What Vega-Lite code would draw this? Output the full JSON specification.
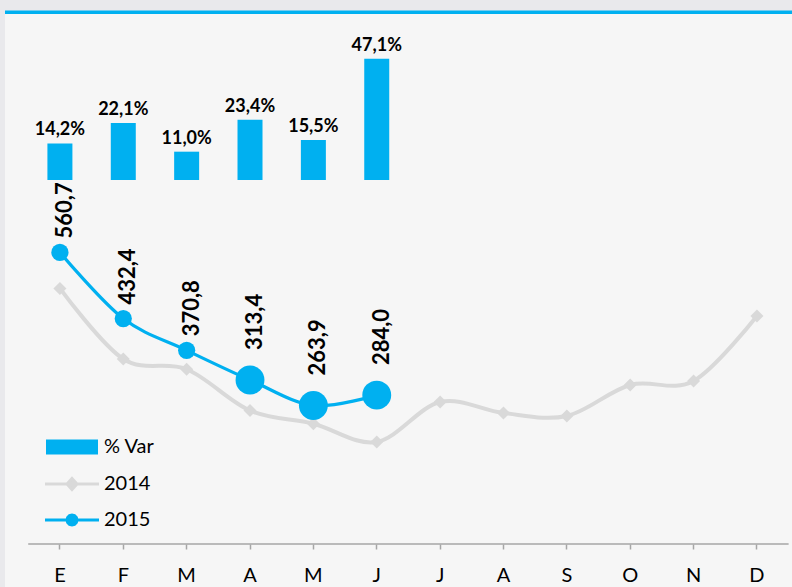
{
  "$schema": "https://vega.github.io/schema/vega-lite/v6.json",
  "width": 787,
  "height": 574,
  "autosize": {"type": "none"},
  "padding": {"left": 5, "top": 13, "right": 0, "bottom": 0},
  "background": "#E9E9EC",
  "config": {"view": {"fill": "#F6F6F6", "stroke": null}, "font": "Lato"},
  "datasets": {
    "d": [
      {"i": 1, "mes": "E", "serie": "% Var", "valor": 14.2, "etiqueta": "14,2%"},
      {"i": 2, "mes": "F", "serie": "% Var", "valor": 22.1, "etiqueta": "22,1%"},
      {"i": 3, "mes": "M", "serie": "% Var", "valor": 11.0, "etiqueta": "11,0%"},
      {"i": 4, "mes": "A", "serie": "% Var", "valor": 23.4, "etiqueta": "23,4%"},
      {"i": 5, "mes": "M", "serie": "% Var", "valor": 15.5, "etiqueta": "15,5%"},
      {"i": 6, "mes": "J", "serie": "% Var", "valor": 47.1, "etiqueta": "47,1%"},
      {"i": 1, "mes": "E", "serie": "2014", "valor": 490.9},
      {"i": 2, "mes": "F", "serie": "2014", "valor": 354.1},
      {"i": 3, "mes": "M", "serie": "2014", "valor": 334.1},
      {"i": 4, "mes": "A", "serie": "2014", "valor": 254.0},
      {"i": 5, "mes": "M", "serie": "2014", "valor": 228.5},
      {"i": 6, "mes": "J", "serie": "2014", "valor": 193.1},
      {"i": 7, "mes": "J", "serie": "2014", "valor": 270.6},
      {"i": 8, "mes": "A", "serie": "2014", "valor": 249.3},
      {"i": 9, "mes": "S", "serie": "2014", "valor": 243.5},
      {"i": 10, "mes": "O", "serie": "2014", "valor": 303.6},
      {"i": 11, "mes": "N", "serie": "2014", "valor": 311.4},
      {"i": 12, "mes": "D", "serie": "2014", "valor": 437.5},
      {"i": 1, "mes": "E", "serie": "2015", "valor": 560.7, "etiqueta": "560,7"},
      {"i": 2, "mes": "F", "serie": "2015", "valor": 432.4, "etiqueta": "432,4"},
      {"i": 3, "mes": "M", "serie": "2015", "valor": 370.8, "etiqueta": "370,8"},
      {"i": 4, "mes": "A", "serie": "2015", "valor": 313.4, "etiqueta": "313,4"},
      {"i": 5, "mes": "M", "serie": "2015", "valor": 263.9, "etiqueta": "263,9"},
      {"i": 6, "mes": "J", "serie": "2015", "valor": 284.0, "etiqueta": "284,0"}
    ]
  },
  "data": {"name": "d"},
  "resolve": {"scale": {"y": "independent"}},
  "layer": [
    {
      "transform": [{"filter": "datum.serie === '% Var'"}],
      "mark": {"type": "bar", "size": 25},
      "encoding": {
        "x": {
          "field": "i", "type": "ordinal",
          "scale": {"paddingInner": 0, "paddingOuter": 0.21, "align": 0.873},
          "axis": {
            "title": null,
            "labelExpr": "['E','F','M','A','M','J','J','A','S','O','N','D'][datum.value-1]",
            "labelAngle": 0, "labelFont": "Lato", "labelFontSize": 20, "labelColor": "#000000",
            "labelPadding": 16.5, "tickSize": 5, "tickColor": "#A6A6A6", "tickWidth": 1.5,
            "domain": false, "grid": false, "offset": -43
          }
        },
        "y": {"field": "valor", "type": "quantitative", "scale": {"domain": [-158.2, 64.9], "nice": false, "zero": false}, "axis": null},
        "color": {
          "field": "serie", "type": "nominal",
          "scale": {"domain": ["% Var", "2014", "2015"], "range": ["#00B0F0", "#D9D9D9", "#00B0F0"]},
          "legend": {
            "title": null, "orient": "none", "legendX": 41, "legendY": 424, "padding": 0,
            "labelFont": "Lato", "labelFontSize": 20, "labelColor": "#000000",
            "symbolSize": 100, "symbolStrokeWidth": 3, "symbolOffset": 16, "labelOffset": 22, "rowPadding": 13,
            "encode": {
              "symbols": {
                "update": {
                  "shape": {"signal": "datum.value === '% Var' ? 'M-4.9,-1.2H4.9V1.2H-4.9Z' : datum.value === '2014' ? 'M-5.4,0H5.4M0,-1.1L1,0L0,1.1L-1,0Z' : 'M-5.4,0H5.4M1,0L0.87,0.5L0.5,0.87L0,1L-0.5,0.87L-0.87,0.5L-1,0L-0.87,-0.5L-0.5,-0.87L0,-1L0.5,-0.87L0.87,-0.5Z'"},
                  "fill": {"signal": "datum.value === '2014' ? '#D9D9D9' : '#00B0F0'"},
                  "stroke": {"signal": "datum.value === '2014' ? '#D9D9D9' : '#00B0F0'"},
                  "size": {"value": 100},
                  "strokeWidth": {"value": 3},
                  "opacity": {"value": 1},
                  "fillOpacity": {"value": 1},
                  "strokeOpacity": {"value": 1}
                }
              }
            }
          }
        }
      }
    },
    {
      "transform": [{"filter": "datum.serie === '% Var'"}],
      "mark": {"type": "text", "font": "Lato", "fontWeight": "bold", "fontSize": 18, "baseline": "alphabetic", "dy": -8, "color": "#000000"},
      "encoding": {
        "x": {"field": "i", "type": "ordinal"},
        "y": {"field": "valor", "type": "quantitative", "scale": {"domain": [-158.2, 64.9], "nice": false, "zero": false}, "axis": null},
        "text": {"field": "etiqueta"}
      }
    },
    {
      "transform": [{"filter": "datum.serie === '2014'"}],
      "mark": {"type": "line", "interpolate": "cardinal", "strokeWidth": 4},
      "encoding": {
        "x": {"field": "i", "type": "ordinal"},
        "y": {"field": "valor", "type": "quantitative", "scale": {"domain": [-88.3, 1025.2], "nice": false, "zero": false}, "axis": null},
        "color": {"field": "serie", "type": "nominal"}
      }
    },
    {
      "transform": [{"filter": "datum.serie === '2014'"}],
      "mark": {"type": "point", "shape": "diamond", "filled": true, "opacity": 1, "size": 170},
      "encoding": {
        "x": {"field": "i", "type": "ordinal"},
        "y": {"field": "valor", "type": "quantitative", "scale": {"domain": [-88.3, 1025.2], "nice": false, "zero": false}, "axis": null},
        "color": {"field": "serie", "type": "nominal"}
      }
    },
    {
      "transform": [{"filter": "datum.serie === '2015'"}],
      "mark": {"type": "line", "interpolate": "cardinal", "strokeWidth": 3.25},
      "encoding": {
        "x": {"field": "i", "type": "ordinal"},
        "y": {"field": "valor", "type": "quantitative", "scale": {"domain": [-88.3, 1025.2], "nice": false, "zero": false}, "axis": null},
        "color": {"field": "serie", "type": "nominal"}
      }
    },
    {
      "transform": [{"filter": "datum.serie === '2015'"}],
      "mark": {"type": "point", "shape": "circle", "filled": true, "opacity": 1},
      "encoding": {
        "x": {"field": "i", "type": "ordinal"},
        "y": {"field": "valor", "type": "quantitative", "scale": {"domain": [-88.3, 1025.2], "nice": false, "zero": false}, "axis": null},
        "color": {"field": "serie", "type": "nominal"},
        "size": {"condition": {"test": "datum.i >= 4", "value": 835}, "value": 296}
      }
    },
    {
      "transform": [{"filter": "datum.serie === '2015' && datum.i <= 3"}],
      "mark": {"type": "text", "font": "Lato", "fontWeight": "bold", "fontSize": 22, "angle": 270, "align": "left", "baseline": "middle", "dx": 14, "dy": 5, "color": "#000000"},
      "encoding": {
        "x": {"field": "i", "type": "ordinal"},
        "y": {"field": "valor", "type": "quantitative", "scale": {"domain": [-88.3, 1025.2], "nice": false, "zero": false}, "axis": null},
        "text": {"field": "etiqueta"}
      }
    },
    {
      "transform": [{"filter": "datum.serie === '2015' && datum.i >= 4"}],
      "mark": {"type": "text", "font": "Lato", "fontWeight": "bold", "fontSize": 22, "angle": 270, "align": "left", "baseline": "middle", "dx": 30, "dy": 5, "color": "#000000"},
      "encoding": {
        "x": {"field": "i", "type": "ordinal"},
        "y": {"field": "valor", "type": "quantitative", "scale": {"domain": [-88.3, 1025.2], "nice": false, "zero": false}, "axis": null},
        "text": {"field": "etiqueta"}
      }
    },
    {
      "data": {"values": [{}]},
      "mark": {"type": "rule", "color": "#A6A6A6", "strokeWidth": 1.5},
      "encoding": {
        "x": {"datum": 1, "type": "ordinal", "bandPosition": 0},
        "x2": {"datum": 12, "bandPosition": 1},
        "y": {"datum": -5, "type": "quantitative", "scale": {"domain": [-88.3, 1025.2], "nice": false, "zero": false}, "axis": null}
      }
    },
    {
      "data": {"values": [{}]},
      "mark": {"type": "rule", "color": "#00B0F0", "strokeWidth": 3.5},
      "encoding": {
        "y": {"datum": 1026.5, "type": "quantitative", "scale": {"domain": [-88.3, 1025.2], "nice": false, "zero": false}, "axis": null}
      }
    }
  ]
}
